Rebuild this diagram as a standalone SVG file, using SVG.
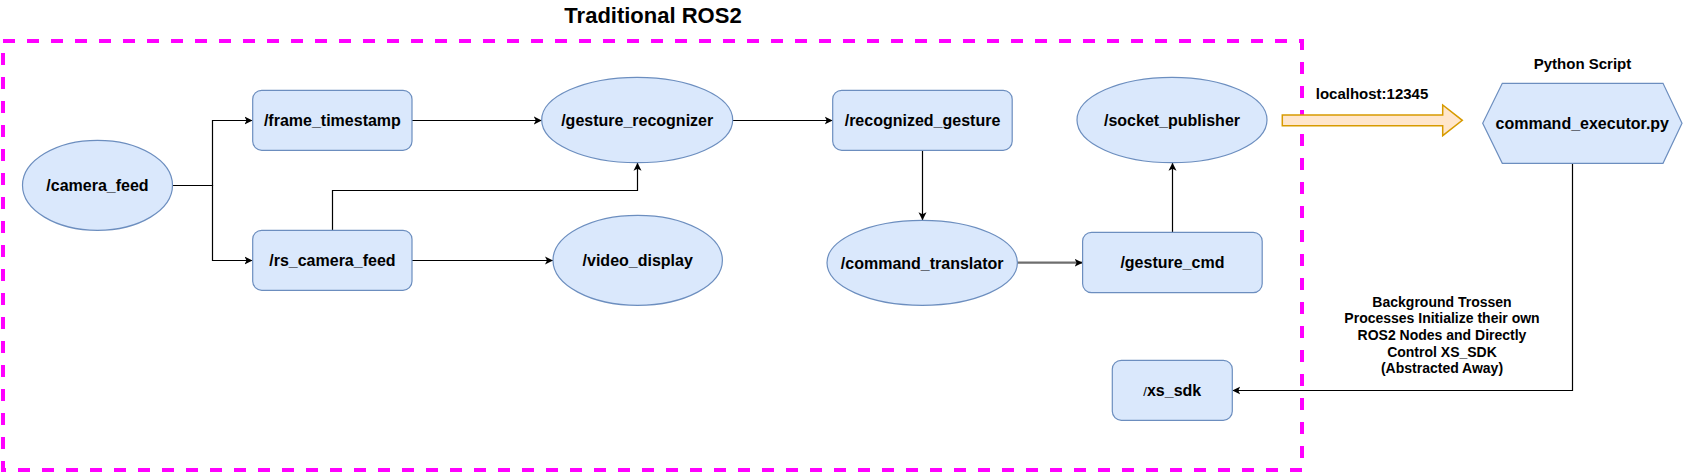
<svg xmlns="http://www.w3.org/2000/svg" width="1683" height="472" viewBox="0 0 1683 472">
<style>
  .node { fill: #dae8fc; stroke: #6c8ebf; stroke-width: 1.2; }
  .lbl { font-family: "Liberation Sans", Arial, sans-serif; font-weight: bold; font-size: 16px; fill: #000; text-anchor: middle; }
  .edge { fill: none; stroke: #000; stroke-width: 1.2; }
  .gray { fill: none; stroke: #6e6e6e; stroke-width: 2.2; }
  .note { font-family: "Liberation Sans", Arial, sans-serif; font-weight: bold; font-size: 14px; fill: #000; text-anchor: middle; }
</style>
<defs>
  <marker id="arr" markerUnits="userSpaceOnUse" markerWidth="10" markerHeight="10" refX="8" refY="4" orient="auto" viewBox="0 0 10 8">
    <path d="M0,0 L8,4 L0,8 L2,4 Z" fill="#000"/>
  </marker>
</defs>
<rect width="1683" height="472" fill="#ffffff"/>

<g id="group-ros2">
  <rect x="3" y="41" width="1299" height="429" fill="none" stroke="#ff00ff" stroke-width="4" stroke-dasharray="12 12"/>
  <text x="653" y="23" font-family="Liberation Sans, Arial, sans-serif" font-weight="bold" font-size="22" text-anchor="middle">Traditional ROS2</text>
</g>

<g id="connectors">
  <path class="edge" d="M172.5,185.5 H212.5 V120.5 H252.5" marker-end="url(#arr)"/>
  <path class="edge" d="M172.5,185.5 H212.5 V260.5 H252.5" marker-end="url(#arr)"/>
  <path class="edge" d="M412,120.5 H541.8" marker-end="url(#arr)"/>
  <path class="edge" d="M332.5,230.3 V190.5 H637.5 V162.7" marker-end="url(#arr)"/>
  <path class="edge" d="M412,260.5 H553" marker-end="url(#arr)"/>
  <path class="edge" d="M732.7,120.5 H832.7" marker-end="url(#arr)"/>
  <path class="edge" d="M922.5,150.3 V220.3" marker-end="url(#arr)"/>
  <path class="gray" d="M1017.3,262.7 H1082.6" marker-end="url(#arr)"/>
  <path class="edge" d="M1172.5,232.3 V162.7" marker-end="url(#arr)"/>
  <path class="edge" d="M1572.5,163.3 V390.5 H1232.3" marker-end="url(#arr)"/>
  <polygon points="1282.3,115 1442.7,115 1442.7,105 1462.3,120.3 1442.7,135.7 1442.7,125.7 1282.3,125.7" fill="#ffe6cc" stroke="#d79b00" stroke-width="1.5"/>
  <text x="1372" y="99" font-family="Liberation Sans, Arial, sans-serif" font-weight="bold" font-size="15" text-anchor="middle">localhost:12345</text>
  <text class="note" x="1442" y="306.7">Background Trossen</text>
  <text class="note" x="1442" y="323.2">Processes Initialize their own</text>
  <text class="note" x="1442" y="339.9">ROS2 Nodes and Directly</text>
  <text class="note" x="1442" y="356.6">Control XS_SDK</text>
  <text class="note" x="1442" y="373.3">(Abstracted Away)</text>
</g>

<g id="camera_feed">
  <ellipse class="node" cx="97.5" cy="185.3" rx="75" ry="45"/>
  <text class="lbl" x="97.5" y="191">/camera_feed</text>
</g>
<g id="frame_timestamp">
  <rect class="node" x="252.7" y="90.3" width="159.3" height="60" rx="9"/>
  <text class="lbl" x="332.4" y="126">/frame_timestamp</text>
</g>
<g id="rs_camera_feed">
  <rect class="node" x="252.7" y="230.3" width="159.3" height="60" rx="9"/>
  <text class="lbl" x="332.4" y="266">/rs_camera_feed</text>
</g>
<g id="gesture_recognizer">
  <ellipse class="node" cx="637.2" cy="120" rx="95.5" ry="42.7"/>
  <text class="lbl" x="637.2" y="125.7">/gesture_recognizer</text>
</g>
<g id="video_display">
  <ellipse class="node" cx="637.7" cy="260.3" rx="84.7" ry="45"/>
  <text class="lbl" x="637.7" y="266">/video_display</text>
</g>
<g id="recognized_gesture">
  <rect class="node" x="832.7" y="90.3" width="179.5" height="60" rx="9"/>
  <text class="lbl" x="922.5" y="126">/recognized_gesture</text>
</g>
<g id="command_translator">
  <ellipse class="node" cx="922.2" cy="262.8" rx="95.2" ry="42.5"/>
  <text class="lbl" x="922.2" y="268.5">/command_translator</text>
</g>
<g id="socket_publisher">
  <ellipse class="node" cx="1172" cy="120" rx="95" ry="42.7"/>
  <text class="lbl" x="1172" y="125.7">/socket_publisher</text>
</g>
<g id="gesture_cmd">
  <rect class="node" x="1082.6" y="232.3" width="179.6" height="60.4" rx="9"/>
  <text class="lbl" x="1172.4" y="268">/gesture_cmd</text>
</g>
<g id="xs_sdk">
  <rect class="node" x="1112.3" y="360.3" width="120" height="60" rx="9"/>
  <text class="lbl" x="1172.3" y="396"><tspan font-weight="normal" font-size="13">/</tspan>xs_sdk</text>
</g>
<g id="command_executor">
  <text x="1582.5" y="69.3" font-family="Liberation Sans, Arial, sans-serif" font-weight="bold" font-size="15" text-anchor="middle">Python Script</text>
  <polygon class="node" points="1482.7,123.3 1502.3,83.3 1663,83.3 1682,123.3 1663,163.3 1502.3,163.3"/>
  <text class="lbl" x="1582.3" y="129.3">command_executor.py</text>
</g>
</svg>
